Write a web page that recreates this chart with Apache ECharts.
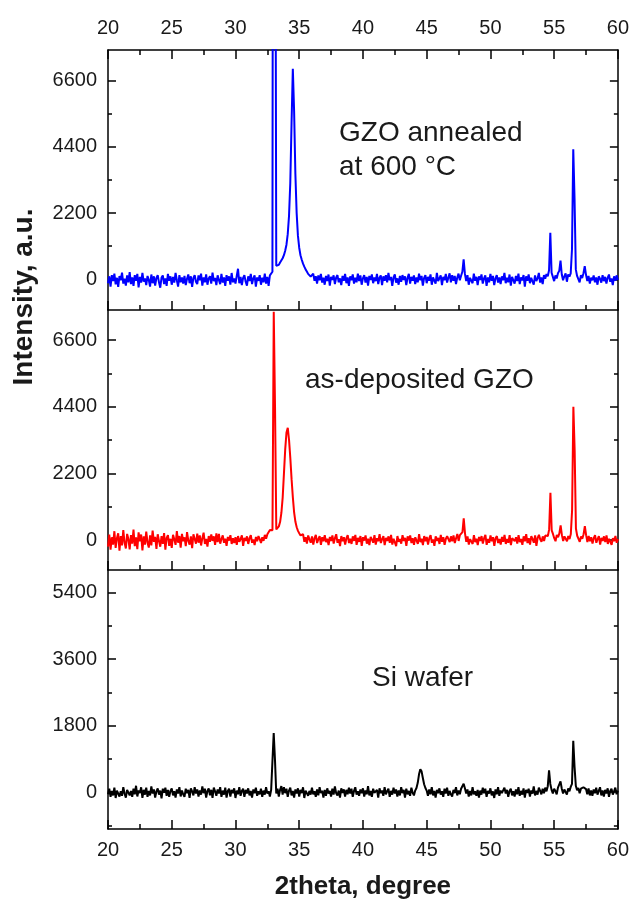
<!DOCTYPE html>
<html><head><meta charset="utf-8">
<script src="https://cdn.jsdelivr.net/npm/echarts@6/dist/echarts.min.js"></script>
<style>html,body{margin:0;padding:0;background:#fff}#c{width:632px;height:903px}</style>
</head><body><div id="c"></div>
<script>
// 2theta grid: first value at 20.0 degree, 0.1 degree per sample
const xStart = 20, xStep = 0.1;
const xTicks = [20, 25, 30, 35, 40, 45, 50, 55, 60];

const gzoAnnealed = [
-130,100,-240,140,-60,190,-170,50,-250,110,
-30,220,-140,20,-210,130,-100,240,-160,60,
-220,140,-50,180,-270,80,-110,210,-80,30,
-190,110,-20,-240,160,-130,100,-210,50,140,
-100,-280,60,130,-160,30,-220,180,-50,100,
-180,80,-110,210,-30,-240,140,-100,60,-140,
110,-190,20,160,-130,100,-250,50,140,-80,
-160,130,-30,190,-210,60,-100,160,-180,30,
100,-140,220,-60,50,-190,130,-20,-160,180,
-110,60,-220,140,-50,100,-180,210,-100,30,
-140,110,350,-130,80,-190,50,140,-80,-210,
100,-60,180,-160,30,130,-240,60,-50,140,
-180,50,-100,190,-140,80,-220,130,150,250,
40000,40000,450,420,480,560,620,700,800,950,
1150,1500,2100,3200,5200,7000,5600,3500,2200,1450,
1050,800,650,520,420,330,260,180,130,90,
60,190,-50,100,-140,130,-30,180,-110,50,
-180,110,-60,160,-210,80,-20,130,-160,60,
140,-100,30,-190,110,-50,180,-130,60,-220,
100,-30,160,-140,50,-100,190,-60,130,-180,
30,140,-110,80,-210,110,-20,160,-130,60,
-60,180,-160,50,130,-190,100,-50,140,-100,
210,-30,80,-220,60,160,-110,30,-180,110,
-80,140,-20,100,-190,50,180,-140,80,-50,
130,-160,60,-100,190,-30,110,-210,50,140,
-130,80,-50,160,-180,60,100,-140,210,-60,
30,130,-190,80,-30,180,-110,50,200,-100,
140,-50,110,-160,60,190,-30,120,250,660,
180,-60,140,-180,50,110,-130,190,-50,80,
-190,100,-20,160,-140,30,130,-220,60,-100,
180,-50,110,-190,30,140,-110,60,-160,100,
-30,210,-130,50,-100,160,-210,80,20,-140,
110,-60,190,-160,60,-30,140,-240,100,-50,
160,-130,50,100,-180,130,-60,30,210,-110,
60,-160,140,20,180,100,300,1550,220,80,
-60,130,30,200,280,620,160,-30,100,200,
-80,160,90,200,1000,4320,2690,330,110,60,
-100,140,40,200,440,150,-60,110,-140,50,
-30,130,-100,60,-180,100,20,-110,140,-60,
80,-140,50,160,-80,30,-190,100,-50,130,
-20
];

const gzoAsDeposited = [
-220,180,-320,90,-150,290,-260,60,220,-350,
130,-180,330,-90,-280,200,30,-310,160,-120,
340,-200,90,-300,250,-40,180,-340,120,-150,
280,-90,-250,150,-180,310,-60,100,-290,190,
-30,-220,130,-130,230,-320,70,160,-190,40,
-260,170,20,-160,290,-90,130,-250,200,-40,
90,-200,260,-30,-150,120,-270,190,30,-120,
210,-90,150,-180,60,240,-130,40,-220,130,
-60,180,-30,120,-160,220,-70,200,-120,30,
150,-90,40,-190,100,-20,160,-130,60,-100,
90,-160,130,-60,30,150,-190,70,-30,120,
-130,60,160,-90,20,-170,100,-40,130,30,
-100,90,-30,170,40,190,220,330,380,320,
7530,4400,350,380,450,600,900,1400,2200,3000,
3550,3700,3300,2700,2000,1400,900,600,420,300,
220,150,120,190,-60,90,-120,150,20,-90,
120,-150,60,170,-100,30,130,-160,90,-40,
160,-70,40,-170,100,-30,150,-120,60,190,
-90,30,-200,130,-40,90,-150,60,160,-100,
40,-130,120,-30,170,-160,70,-60,130,-190,
90,-20,150,-120,40,-170,100,20,-90,160,
-150,60,-40,190,-100,30,130,-170,70,-30,
120,-90,170,-150,40,90,-200,130,-60,30,
-120,160,-30,70,-190,120,-20,150,-100,60,
-160,90,30,-130,190,-70,40,-170,130,-40,
100,-150,60,160,-90,20,-190,120,-30,70,
-130,170,-60,90,-160,40,130,190,-70,120,
-40,150,-100,60,200,-30,160,130,260,715,
220,-60,120,-150,30,90,-130,160,-70,40,
-170,100,-30,130,-120,60,170,-160,30,-90,
150,-40,90,-190,60,130,-100,30,-150,100,
-60,170,-130,30,-90,160,-170,60,120,-40,
90,-120,160,-70,30,-160,120,-40,190,-100,
60,-150,130,30,-90,150,-190,70,170,20,
-60,120,-30,150,90,130,350,1560,320,200,
60,-40,170,90,220,485,160,-30,120,60,
-40,130,30,200,990,4400,2970,380,140,200,
-60,120,40,190,460,160,-70,130,-40,90,
-120,60,160,-90,30,130,-150,70,-30,120,
-70,150,-130,40,90,-160,60,-40,130,-90,
30
];

const siWafer = [
-60,90,-130,30,-90,120,-160,40,70,-120,
20,-100,130,-40,-150,60,100,-90,30,-130,
90,-60,170,-120,40,-30,130,-160,60,-70,
120,-130,30,-90,150,-40,70,-150,20,100,
-70,40,-170,90,-20,120,-100,60,-130,30,
100,-90,20,-150,70,-40,130,-120,40,-60,
-130,90,-30,60,-160,100,20,-90,130,-40,
70,-120,40,-70,150,-30,90,-150,30,100,
-90,60,-160,120,20,-100,70,-40,130,-130,
40,-70,120,-150,30,90,-120,60,-30,100,
-160,40,-60,130,-100,30,90,-130,60,-40,
100,-90,30,-150,70,-30,120,-100,20,-60,
90,-130,40,-70,130,-40,20,-120,60,30,
1600,870,-40,90,-120,60,160,-70,130,-30,
90,-130,40,120,-90,30,-150,70,-40,100,
-120,60,-30,130,-160,40,90,-100,30,-70,
120,-60,20,-130,70,-90,130,-30,40,-150,
60,-100,100,-40,30,-120,90,-70,150,-30,
-90,40,-150,100,-20,70,-120,60,-60,120,
-40,90,-130,30,130,-70,20,-100,70,-30,
100,-120,40,-60,160,-90,30,-130,90,-20,
-70,60,-150,100,-30,40,-100,130,-60,20,
90,-130,30,-70,120,-40,70,-120,40,-90,
130,-30,60,-150,90,-60,30,-100,120,-20,
-90,40,110,250,480,620,560,380,210,110,
40,-100,70,-60,130,-90,30,-150,60,-30,
100,-70,20,-130,90,-40,120,-100,30,-60,
-120,60,-30,130,-90,40,-60,90,130,225,
100,-40,70,-120,30,-90,130,-60,20,-100,
60,-150,40,-70,120,-30,90,-130,30,-40,
100,-90,20,-160,70,-60,130,-100,40,-30,
-70,120,-40,60,-130,30,90,-90,20,-120,
70,-60,130,-100,30,-70,100,-150,60,-20,
90,-120,40,-40,150,-90,30,-70,120,30,
-60,90,-30,120,20,160,585,220,60,-40,
90,30,-60,120,170,290,90,-40,70,30,
-70,100,20,140,220,1390,690,170,50,110,
-30,90,60,130,170,80,-60,100,-90,40,
-100,70,-30,120,-70,30,130,-90,40,-120,
60,-40,100,-130,30,90,-70,20,120,-60,
40
];

const gzoMajor = [0, 2200, 4400, 6600];
const gzoMinor = [1100, 3300, 5500];
const siMajor = [0, 1800, 3600, 5400];
const siMinor = [-900, 900, 2700, 4500];

const labels = ['GZO annealed\nat 600 °C', 'as-deposited GZO', 'Si wafer'];

const FONT = 'Liberation Sans, Arial, sans-serif';
const TXT = '#1a1a1a';
const lineSt = {color: '#000', width: 1.5};

function toPairs(arr) {
  return arr.map((v, i) => [Math.round((xStart + i * xStep) * 100) / 100, v]);
}
function plain(v) { return String(v); }

function yAxes(gi, min, max, major, minor) {
  const base = {gridIndex: gi, type: 'value', min: min, max: max, splitLine: {show: false}};
  return [
    Object.assign({}, base, {position: 'left',
      axisLine: {show: true, onZero: false, lineStyle: lineSt},
      axisTick: {show: true, inside: true, length: 8, customValues: major, lineStyle: lineSt},
      axisLabel: {show: true, customValues: major, formatter: plain, margin: 11, color: TXT, fontSize: 20, fontFamily: FONT}}),
    Object.assign({}, base, {position: 'left',
      axisLine: {show: false},
      axisTick: {show: true, inside: true, length: 4, customValues: minor, lineStyle: lineSt},
      axisLabel: {show: false}}),
    Object.assign({}, base, {position: 'right',
      axisLine: {show: true, onZero: false, lineStyle: lineSt},
      axisTick: {show: true, inside: true, length: 8, customValues: major, lineStyle: lineSt},
      axisLabel: {show: false}}),
    Object.assign({}, base, {position: 'right',
      axisLine: {show: false},
      axisTick: {show: true, inside: true, length: 4, customValues: minor, lineStyle: lineSt},
      axisLabel: {show: false}})
  ];
}

function xAxis(gi, pos, showLabel, extra) {
  return Object.assign({
    gridIndex: gi, type: 'value', position: pos, min: xTicks[0], max: xTicks[xTicks.length - 1], interval: 5,
    axisLine: {show: true, onZero: false, lineStyle: lineSt},
    axisTick: {show: true, inside: true, length: 9, lineStyle: lineSt},
    minorTick: {show: true, splitNumber: 2, length: 5, lineStyle: lineSt},
    axisLabel: {show: showLabel, formatter: plain, margin: pos === 'top' ? 12 : 11, color: TXT, fontSize: 20, fontFamily: FONT},
    splitLine: {show: false}, minorSplitLine: {show: false}
  }, extra || {});
}

const chart = echarts.init(document.getElementById('c'), null, {renderer: 'canvas'});
chart.setOption({
  animation: false,
  backgroundColor: '#fff',
  grid: [
    {left: 108, right: 14, top: 50, height: 260},
    {left: 108, right: 14, top: 310, height: 260},
    {left: 108, right: 14, top: 570, height: 259}
  ],
  xAxis: [
    xAxis(0, 'top', true),
    xAxis(0, 'bottom', false),
    xAxis(1, 'bottom', false),
    xAxis(2, 'bottom', true, {name: '2theta, degree', nameLocation: 'middle', nameGap: 45,
      nameTextStyle: {fontSize: 26, fontWeight: 'bold', color: TXT, fontFamily: FONT}})
  ],
  yAxis: [].concat(
    yAxes(0, -1020, 7620, gzoMajor, gzoMinor),
    yAxes(1, -990, 7590, gzoMajor, gzoMinor),
    yAxes(2, -1000, 6010, siMajor, siMinor)
  ),
  series: [
    {type: 'line', name: labels[0], xAxisIndex: 1, yAxisIndex: 0, data: toPairs(gzoAnnealed),
      showSymbol: false, symbol: 'none', clip: true, lineStyle: {color: '#0000ff', width: 2}},
    {type: 'line', name: labels[1], xAxisIndex: 2, yAxisIndex: 4, data: toPairs(gzoAsDeposited),
      showSymbol: false, symbol: 'none', clip: true, lineStyle: {color: '#ff0000', width: 2}},
    {type: 'line', name: labels[2], xAxisIndex: 3, yAxisIndex: 8, data: toPairs(siWafer),
      showSymbol: false, symbol: 'none', clip: true, lineStyle: {color: '#000000', width: 2}}
  ],
  graphic: [
    {type: 'text', x: 24, y: 297, rotation: Math.PI / 2,
      style: {text: 'Intensity, a.u.', font: 'bold 28px ' + FONT, fill: TXT, textAlign: 'center', textVerticalAlign: 'middle'}},
    {type: 'text', x: 339, y: 150,
      style: {text: labels[0], font: '28px ' + FONT, fill: TXT, lineHeight: 34, textAlign: 'left', textVerticalAlign: 'middle'}},
    {type: 'text', x: 305, y: 380,
      style: {text: labels[1], font: '28px ' + FONT, fill: TXT, textAlign: 'left', textVerticalAlign: 'middle'}},
    {type: 'text', x: 372, y: 678,
      style: {text: labels[2], font: '28px ' + FONT, fill: TXT, textAlign: 'left', textVerticalAlign: 'middle'}}
  ]
});
</script>
</body></html>
